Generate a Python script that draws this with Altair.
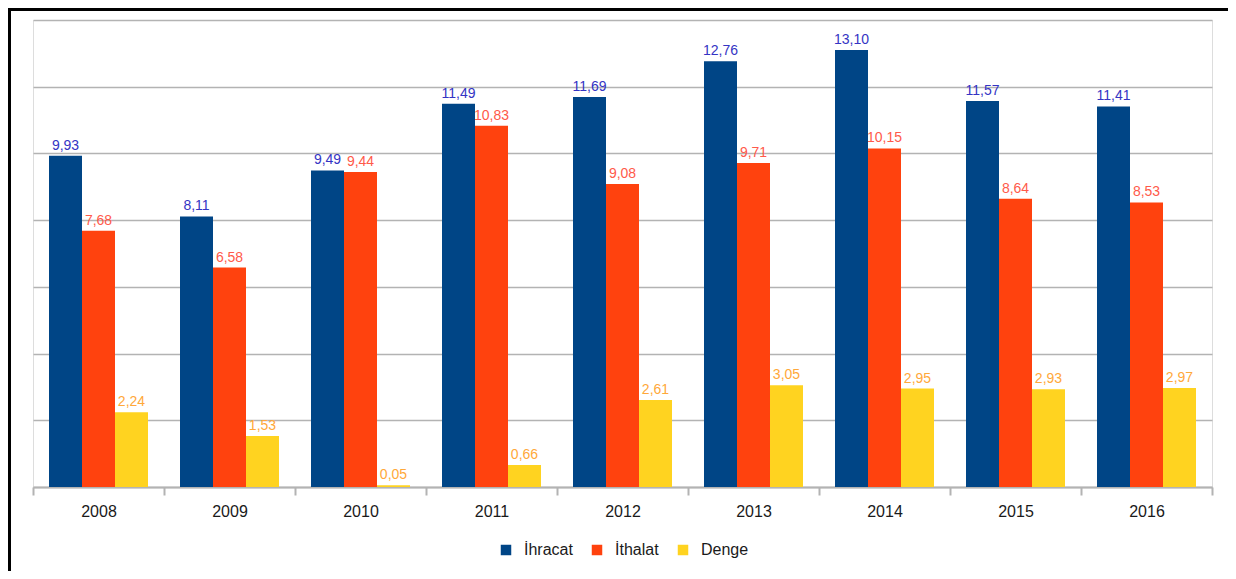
import altair as alt
import pandas as pd

years = ["2008", "2009", "2010", "2011", "2012", "2013", "2014", "2015", "2016"]
series = ["İhracat", "İthalat", "Denge"]
ihracat = [9.93, 8.11, 9.49, 11.49, 11.69, 12.76, 13.10, 11.57, 11.41]
ithalat = [7.68, 6.58, 9.44, 10.83, 9.08, 9.71, 10.15, 8.64, 8.53]
denge = [2.24, 1.53, 0.05, 0.66, 2.61, 3.05, 2.95, 2.93, 2.97]
bar_colors = ["#004586", "#ff420e", "#ffd320"]
text_colors = ["#3434c4", "#ff5a4a", "#ffa83a"]

rows = []
for s, vals, tc in zip(series, [ihracat, ithalat, denge], text_colors):
    for y, v in zip(years, vals):
        rows.append({"year": y, "series": s, "value": v,
                     "label": f"{v:.2f}".replace(".", ","), "tcolor": tc})
df = pd.DataFrame(rows)

FONT = "Liberation Sans, Arial"

x_enc = alt.X("year:N", sort=years,
              scale=alt.Scale(paddingInner=0, paddingOuter=0),
              axis=alt.Axis(title=None, labelAngle=0, tickBand="extent",
                            labelFont=FONT, labelFontSize=16, labelColor="#1a1a1a",
                            labelPadding=8, tickSize=8, tickColor="#b3b3b3",
                            tickWidth=2, domainColor="#b3b3b3", domainWidth=2,
                            grid=False))
xo_enc = alt.XOffset("series:N", sort=series,
                     scale=alt.Scale(paddingInner=0, paddingOuter=0.485))
y_enc = alt.Y("value:Q", scale=alt.Scale(domain=[0, 14], nice=False),
              axis=alt.Axis(title=None, values=[0, 2, 4, 6, 8, 10, 12, 14],
                            labels=False, ticks=False, domain=False,
                            gridColor="#b3b3b3", gridWidth=1.5))

base = alt.Chart(df).encode(x=x_enc, xOffset=xo_enc, y=y_enc)

bars = base.mark_bar().encode(
    color=alt.Color("series:N", sort=series,
                    scale=alt.Scale(domain=series, range=bar_colors),
                    legend=alt.Legend(title=None, orient="none", direction="horizontal",
                                      legendX=465, legendY=522,
                                      symbolType="square", symbolSize=110,
                                      symbolStrokeWidth=0,
                                      labelFont=FONT, labelFontSize=16,
                                      labelColor="#1a1a1a", labelOffset=10,
                                      columnPadding=16))
)

labels = base.mark_text(baseline="bottom", dy=-3, font=FONT, fontSize=14).encode(
    text="label:N",
    color=alt.Color("tcolor:N", scale=None),
)

frame_top = alt.Chart(df).mark_rule(color="black", strokeWidth=3).encode(
    x=alt.value(-25), x2=alt.value(1197), y=alt.value(-11))
frame_left = alt.Chart(df).mark_rule(color="black", strokeWidth=3).encode(
    x=alt.value(-24), y=alt.value(-12), y2=alt.value(565))

chart = alt.layer(bars, labels, frame_top, frame_left).properties(
    width=1179, height=467,
    autosize=alt.AutoSizeParams(type="none"),
    padding={"left": 25, "top": 12, "right": 16, "bottom": 84},
).configure_view(stroke="#b3b3b3", strokeWidth=2).configure(background="white")

chart.save("out.html", embed_options={"renderer": "svg", "actions": False})
